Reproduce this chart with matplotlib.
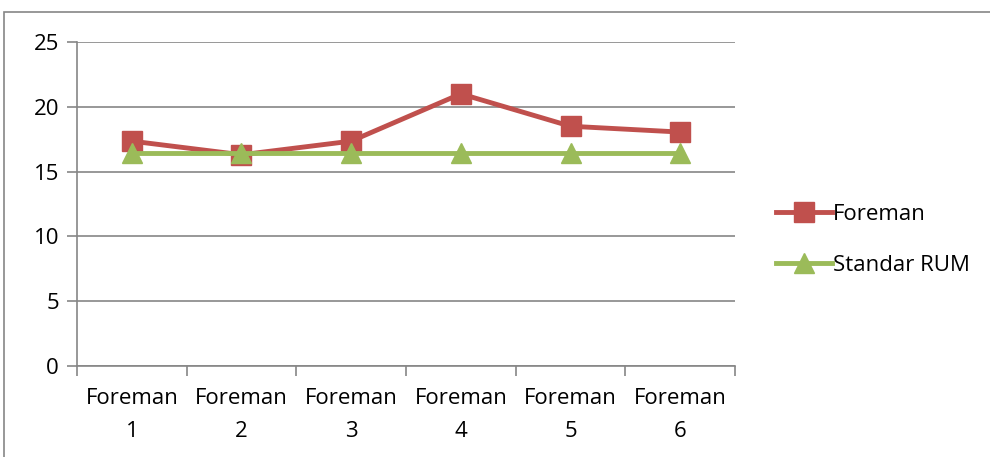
import numpy as np
import matplotlib.pyplot as plt
from matplotlib.patches import Rectangle

plt.rcParams['font.family'] = ['Open Sans', 'DejaVu Sans']

kategori = ['Foreman\n1', 'Foreman\n2', 'Foreman\n3', 'Foreman\n4', 'Foreman\n5', 'Foreman\n6']
foreman = [17.35, 16.3, 17.35, 21.0, 18.5, 18.05]
standar_rum = [16.45, 16.45, 16.45, 16.45, 16.45, 16.45]

merah = '#C0504D'
hijau = '#9BBB59'
abu = '#868686'

fig = plt.figure(figsize=(9.9, 4.57), dpi=100)
ax = fig.add_axes([77/990, 91/457, 658/990, 324/457])

x = np.arange(len(kategori))
ax.plot(x, foreman, color=merah, lw=3.5, marker='s', ms=14, label='Foreman', zorder=3)
ax.plot(x, standar_rum, color=hijau, lw=3.5, marker='^', ms=15, label='Standar RUM', zorder=4)

ax.set_xlim(-0.5, 5.5)
ax.set_ylim(0, 25)
ax.set_yticks(range(0, 26, 5))
ax.yaxis.grid(True, color=abu, lw=1.2)
ax.set_axisbelow(True)

ax.set_xticks(np.arange(-0.5, 6, 1))
ax.set_xticklabels([])
ax.set_xticks(x, minor=True)
ax.set_xticklabels(kategori, minor=True, fontsize=16, linespacing=1.75)
ax.tick_params(axis='x', which='minor', length=0, pad=16)
ax.tick_params(axis='x', which='major', length=7, color=abu, width=1.2)
ax.tick_params(axis='y', length=7, color=abu, width=1.2, labelsize=16, pad=6)

for s in ['top', 'right']:
    ax.spines[s].set_visible(False)
for s in ['left', 'bottom']:
    ax.spines[s].set_color(abu)
    ax.spines[s].set_linewidth(1.2)

ax.legend(loc='center left', bbox_to_anchor=(1.032, 0.39), frameon=False,
          fontsize=16, handlelength=2.5, handletextpad=0.05, labelspacing=1.35)

fig.patches.append(Rectangle((4/990, -0.1), 1.2, (457-12)/457 + 0.1,
                             transform=fig.transFigure, fill=False,
                             edgecolor=abu, lw=1.2))

fig.savefig('out.png', dpi=100)
